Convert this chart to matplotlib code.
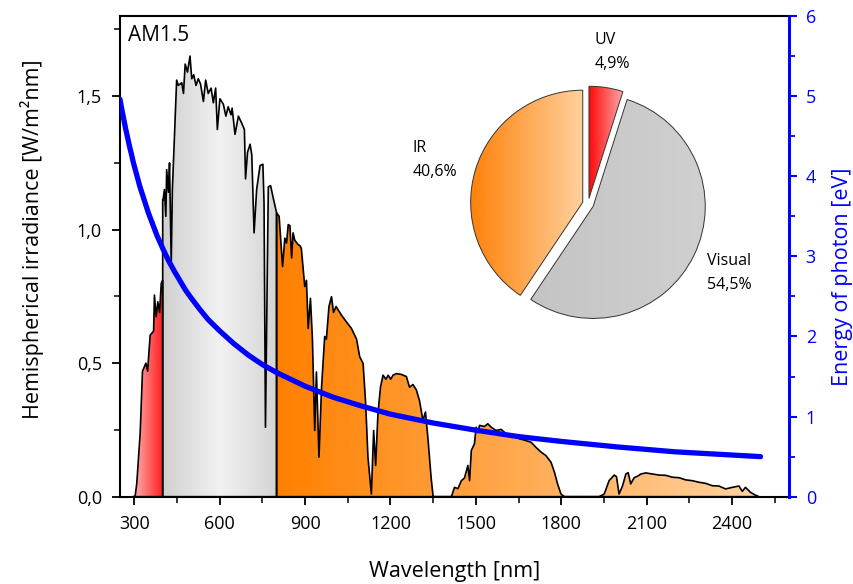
import numpy as np
import matplotlib
matplotlib.use("Agg")
import matplotlib.pyplot as plt
from matplotlib.patches import Polygon
from matplotlib.colors import LinearSegmentedColormap
from matplotlib.ticker import MultipleLocator, FuncFormatter

plt.rcParams['font.family'] = ['Open Sans', 'DejaVu Sans']

# AM1.5 global spectrum, hemispherical irradiance [W/(m^2 nm)]
wavelength = [295, 303, 309, 321, 329, 341, 347, 356, 368, 371, 377, 383, 389, 395, 400,
              401, 406, 411, 414, 420, 424, 430, 434, 449, 455, 467, 473, 479, 487, 496,
              502, 509, 517, 525, 533, 543, 551, 560, 570, 578, 586, 592, 601, 613, 622,
              630, 640, 644, 654, 666, 677, 687, 691, 698, 707, 713, 721, 730, 742, 752,
              756, 761, 767, 771, 779, 788, 800, 809, 821, 829, 835, 841, 847, 853, 858,
              864, 876, 882, 887, 899, 905, 911, 919, 926, 934, 940, 949, 958, 969, 975,
              984, 993, 1000, 1009, 1028, 1045, 1063, 1081, 1092, 1104, 1113, 1121, 1133, 1141, 1148,
              1156, 1165, 1174, 1184, 1192, 1201, 1209, 1221, 1238, 1256, 1267, 1279, 1291, 1302, 1314,
              1323, 1332, 1343, 1350, 1414, 1425, 1437, 1449, 1460, 1472, 1478, 1484, 1495, 1501, 1507,
              1513, 1530, 1542, 1554, 1571, 1589, 1606, 1630, 1653, 1676, 1694, 1711, 1729, 1746, 1764,
              1776, 1787, 1799, 1811, 1933, 1951, 1968, 1986, 1994, 2003, 2015, 2027, 2035, 2044, 2056,
              2068, 2080, 2097, 2120, 2144, 2167, 2190, 2214, 2237, 2260, 2284, 2307, 2331, 2354, 2377,
              2401, 2424, 2436, 2447, 2465, 2482, 2494]
irradiance = [0.0, 0.0, 0.05, 0.24, 0.47, 0.50, 0.47, 0.605, 0.62, 0.755, 0.674, 0.73, 0.69, 0.80, 0.81,
              1.11, 1.15, 1.05, 1.225, 1.14, 1.25, 0.875, 1.15, 1.56, 1.54, 1.55, 1.51, 1.62, 1.59, 1.65,
              1.565, 1.58, 1.54, 1.565, 1.545, 1.48, 1.56, 1.51, 1.53, 1.475, 1.53, 1.375, 1.49, 1.47, 1.425,
              1.46, 1.43, 1.455, 1.357, 1.425, 1.40, 1.375, 1.19, 1.29, 1.32, 1.28, 0.988, 1.15, 1.24, 1.245,
              1.10, 0.26, 0.80, 1.16, 1.165, 1.12, 1.063, 1.05, 0.862, 0.968, 0.95, 1.019, 1.015, 0.894, 0.988,
              0.96, 0.944, 0.94, 0.93, 0.787, 0.81, 0.63, 0.743, 0.59, 0.248, 0.467, 0.148, 0.41, 0.60, 0.59,
              0.712, 0.749, 0.69, 0.712, 0.68, 0.655, 0.63, 0.59, 0.524, 0.499, 0.348, 0.148, 0.01, 0.248, 0.117,
              0.31, 0.41, 0.455, 0.44, 0.455, 0.44, 0.455, 0.461, 0.458, 0.45, 0.41, 0.42, 0.40, 0.36, 0.286,
              0.317, 0.215, 0.07, 0.0, 0.0, 0.035, 0.03, 0.06, 0.07, 0.117, 0.06, 0.173, 0.198, 0.26, 0.24,
              0.267, 0.263, 0.273, 0.26, 0.248, 0.252, 0.236, 0.23, 0.217, 0.21, 0.204, 0.185, 0.167, 0.154, 0.129,
              0.092, 0.048, 0.01, 0.0, 0.0, 0.01, 0.06, 0.081, 0.075, 0.01, 0.04, 0.085, 0.09, 0.048, 0.071,
              0.077, 0.085, 0.089, 0.085, 0.081, 0.08, 0.073, 0.071, 0.063, 0.06, 0.054, 0.05, 0.041, 0.04, 0.029,
              0.035, 0.04, 0.02, 0.035, 0.016, 0.006, 0.0]

# photon energy curve [eV] vs wavelength [nm]
energy_wl = [250, 255, 260, 265, 270, 275, 280, 285, 290, 295, 300, 310, 320, 330, 340, 350, 365, 380,
             400, 420, 440, 460, 480, 500, 530, 560, 600, 650, 700, 750, 800, 900, 1000, 1100, 1200,
             1350, 1500, 1650, 1800, 2000, 2200, 2350, 2500]
energy_ev = [4.96, 4.86, 4.77, 4.68, 4.59, 4.51, 4.43, 4.35, 4.28, 4.20, 4.13, 4.00, 3.87, 3.76, 3.65,
             3.54, 3.40, 3.26, 3.10, 2.95, 2.82, 2.70, 2.58, 2.48, 2.34, 2.21, 2.07, 1.91, 1.77, 1.65,
             1.55, 1.38, 1.24, 1.13, 1.03, 0.92, 0.83, 0.75, 0.69, 0.62, 0.56, 0.53, 0.50]

# share of total irradiance per band
band_names = ['UV', 'Visual', 'IR']
band_share = [4.9, 54.5, 40.6]
band_edges = [400, 800]

wl = np.array(wavelength, dtype=float)
irr = np.array(irradiance, dtype=float)


def gradient_patch(ax, verts, colors, x0, x1, y0, y1, lw=1.2, ec='black', z=2):
    patch = Polygon(verts, closed=True, facecolor='none', edgecolor=ec, linewidth=lw,
                    joinstyle='round', zorder=z + 0.1)
    ax.add_patch(patch)
    cmap = LinearSegmentedColormap.from_list('g', colors)
    grad = np.linspace(0, 1, 256).reshape(1, -1)
    im = ax.imshow(grad, cmap=cmap, extent=[x0, x1, y0, y1], aspect='auto',
                   origin='lower', interpolation='bilinear', zorder=z)
    im.set_clip_path(patch)
    return patch


def band(lo, hi):
    m = (wl > lo) & (wl < hi)
    xs = np.concatenate([[lo], wl[m], [hi]])
    ys = np.concatenate([[np.interp(lo, wl, irr)], irr[m], [np.interp(hi, wl, irr)]])
    verts = [(xs[0], 0)] + list(zip(xs, ys)) + [(xs[-1], 0)]
    return verts


fig = plt.figure(figsize=(8.54, 5.84), dpi=100)
ax = fig.add_axes([0.1405, 0.1495, 0.7834, 0.8231])

gradient_patch(ax, band(wl[0], band_edges[0]), ['#ffb4b4', '#ff1e1e'], wl[0], band_edges[0], 0, 1.8)
vis_verts = band(band_edges[0], band_edges[1])
vis_verts[1] = (band_edges[0], irr[wl > band_edges[0]][0])
gradient_patch(ax, vis_verts, ['#d0d0d0', '#f2f2f2', '#d4d4d4'], band_edges[0], band_edges[1], 0, 1.8)
gradient_patch(ax, band(band_edges[1], wl[-1]), ['#ff8000', '#ffd3a2'], band_edges[1], wl[-1], 0, 1.8)

ax.set_xlim(250, 2600)
ax.set_ylim(0, 1.8)
ax.xaxis.set_major_locator(MultipleLocator(300))
ax.xaxis.set_minor_locator(MultipleLocator(150))
ax.yaxis.set_major_locator(MultipleLocator(0.5))
ax.yaxis.set_minor_locator(MultipleLocator(0.25))
ax.yaxis.set_major_formatter(FuncFormatter(lambda v, p: f"{v:.1f}".replace('.', ',')))
ax.set_xticks([300, 600, 900, 1200, 1500, 1800, 2100, 2400])
ax.tick_params(which='major', length=6, width=1.3, labelsize=13, pad=7)
ax.tick_params(which='minor', length=4, width=1.1)
for s in ['left', 'bottom', 'top']:
    ax.spines[s].set_linewidth(1.5)
ax.spines['right'].set_visible(False)
ax.set_xlabel('Wavelength [nm]', fontsize=15.5, labelpad=20)
ax.text(0.012, 0.96, 'AM1.5', transform=ax.transAxes, fontsize=15, ha='left', va='center')

# photon energy on the right axis
ax2 = ax.twinx()
ax2.plot(energy_wl, energy_ev, color='#0000ff', lw=3.8, solid_capstyle='round',
         solid_joinstyle='round', zorder=5)
ax2.set_ylim(0, 6)
ax2.set_xlim(250, 2600)
ax2.yaxis.set_major_locator(MultipleLocator(1))
ax2.yaxis.set_minor_locator(MultipleLocator(0.5))
for s in ['left', 'bottom', 'top']:
    ax2.spines[s].set_visible(False)
ax2.spines['right'].set_color('#0000ff')
ax2.spines['right'].set_linewidth(2.2)
ax2.tick_params(axis='y', which='major', colors='#0000ff', length=6, width=1.5, labelsize=13, pad=6)
ax2.tick_params(axis='y', which='minor', colors='#0000ff', length=4, width=1.3)

fig.text(32 / 854, 1 - 239 / 584, 'Hemispherical irradiance [W/m\u00b2nm]', rotation=90,
         ha='center', va='center', fontsize=15.5)
fig.text(843 / 854, 1 - 277 / 584, 'Energy of photon [eV]', rotation=90,
         ha='center', va='center', fontsize=15.5, color='#0000ff')

# inset pie of band shares
pax = fig.add_axes([453.6 / 854, 245.6 / 584, 269 / 854, 269 / 584])
wedges, _ = pax.pie(band_share, explode=[0.05, 0.05, 0.05], startangle=90, counterclock=False,
                    wedgeprops=dict(facecolor='none', edgecolor='#333333', linewidth=0.7))
pie_colors = [['#ff0a0a', '#ffa6a6'], ['#c4c4c4', '#d0d0d0'], ['#ff8008', '#ffd29e']]
for w, cols in zip(wedges, pie_colors):
    v = w.get_path().vertices
    w.set_zorder(3)
    cmap = LinearSegmentedColormap.from_list('w', cols)
    im = pax.imshow(np.linspace(0, 1, 256).reshape(1, -1), cmap=cmap, aspect='auto',
                    extent=[v[:, 0].min(), v[:, 0].max(), v[:, 1].min(), v[:, 1].max()],
                    origin='lower', interpolation='bilinear', zorder=2)
    im.set_clip_path(w)
pax.set_xlim(-1.2, 1.2)
pax.set_ylim(-1.2, 1.2)
pax.set_aspect('auto')
pax.axis('off')

label_pos = {'UV': (0.054, 1.464, 1.25), 'IR': (-1.5625, 0.5, 0.286), 'Visual': (1.0625, -0.509, -0.723)}
for name, share in zip(band_names, band_share):
    x, y1, y2 = label_pos[name]
    pax.text(x, y1, name, fontsize=11.5, ha='left', va='center')
    pax.text(x, y2, f"{share:.1f}%".replace('.', ','), fontsize=11.5, ha='left', va='center')

fig.savefig('out.png', dpi=100)
